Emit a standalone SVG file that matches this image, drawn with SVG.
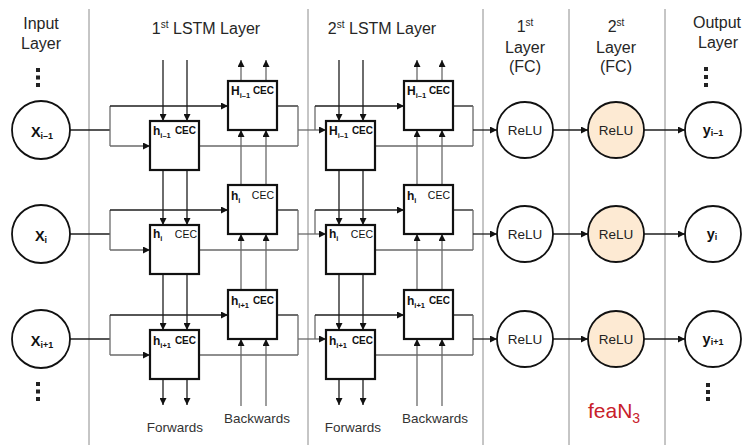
<svg xmlns="http://www.w3.org/2000/svg" width="747" height="445" viewBox="0 0 747 445">
  <defs>
    <style>
      text { font-family: "Liberation Sans", Arial, sans-serif; }
      .sep { stroke: #8c8c8c; stroke-width: 1; }
      .hd { font-size: 16px; fill: #262626; text-anchor: middle; }
      .sup { font-size: 10px; }
      .box { fill: #fff; stroke: #111; stroke-width: 2.2; }
      .bl { font-size: 12px; font-weight: bold; fill: #111; }
      .sub { font-size: 7.5px; }
      .nsub { font-size: 9px; }
      .cec { font-size: 10px; font-weight: bold; fill: #111; text-anchor: end; }
      .cecn { font-size: 10.5px; fill: #111; text-anchor: end; }
      .nd { fill: #fff; stroke: #111; stroke-width: 1.8; }
      .hot { fill: #FDEAD3; }
      .nt { font-size: 13.5px; fill: #222; text-anchor: middle; }
      .ntb { font-size: 14.5px; font-weight: bold; fill: #111; text-anchor: middle; }
      .ln { fill: none; stroke: #1e1e1e; stroke-width: 1.3; }
      .lg { fill: none; stroke: #6a6a6a; stroke-width: 1.3; }
      .arr { marker-end: url(#ah); }
      .dir { font-size: 13.5px; fill: #333; text-anchor: middle; }
      .dot { fill: #222; }
    </style>
    <marker id="ah" viewBox="0 0 8 8" refX="8" refY="4" markerWidth="7" markerHeight="7" markerUnits="userSpaceOnUse" orient="auto">
      <path d="M0,0 L8,4 L0,8 z" fill="#111"/>
    </marker>
  </defs>

  <rect width="747" height="445" fill="#fff"/>

  <!-- column separators -->
  <g id="separators">
    <line class="sep" x1="89" y1="9" x2="89" y2="445"/>
    <line class="sep" x1="308" y1="9" x2="308" y2="445"/>
    <line class="sep" x1="483" y1="9" x2="483" y2="445"/>
    <line class="sep" x1="569" y1="9" x2="569" y2="445"/>
    <line class="sep" x1="665" y1="9" x2="665" y2="445"/>
  </g>

  <!-- column headings -->
  <g id="headings">
    <text class="hd" x="41" y="29">Input</text>
    <text class="hd" x="41" y="49">Layer</text>
    <text class="hd" x="206" y="34">1<tspan class="sup" dy="-6">st</tspan><tspan dy="6"> LSTM Layer</tspan></text>
    <text class="hd" x="382" y="34">2<tspan class="sup" dy="-6">st</tspan><tspan dy="6"> LSTM Layer</tspan></text>
    <text class="hd" x="525" y="32">1<tspan class="sup" dy="-6">st</tspan></text>
    <text class="hd" x="525" y="53">Layer</text>
    <text class="hd" x="525" y="72">(FC)</text>
    <text class="hd" x="616" y="32">2<tspan class="sup" dy="-6">st</tspan></text>
    <text class="hd" x="616" y="53">Layer</text>
    <text class="hd" x="616" y="72">(FC)</text>
    <text class="hd" x="717" y="28">Output</text>
    <text class="hd" x="718" y="48">Layer</text>
  </g>

  <!-- continuation dots -->
  <g id="ellipses">
    <rect class="dot" x="36" y="68" width="4" height="4"/>
    <rect class="dot" x="36" y="75.5" width="4" height="4"/>
    <rect class="dot" x="36" y="83" width="4" height="4"/>
    <rect class="dot" x="36" y="382" width="4" height="4"/>
    <rect class="dot" x="36" y="389.5" width="4" height="4"/>
    <rect class="dot" x="36" y="397" width="4" height="4"/>
    <rect class="dot" x="704" y="67" width="4" height="4"/>
    <rect class="dot" x="704" y="75" width="4" height="4"/>
    <rect class="dot" x="704" y="83" width="4" height="4"/>
    <rect class="dot" x="706" y="383" width="4" height="4"/>
    <rect class="dot" x="706" y="390" width="4" height="4"/>
    <rect class="dot" x="706" y="397" width="4" height="4"/>
  </g>

  <!-- connectors -->
  <g id="connectors">
    <!-- row i-1 -->
    <path class="ln" d="M70,130 H110"/>
    <path class="lg" d="M110,106 V146"/>
    <path class="ln arr" d="M110,106 H228"/>
    <path class="lg arr" d="M110,146 H150"/>
    <path class="ln" d="M277,106 H298"/>
    <path class="lg" d="M199,146 H298 M298,106 V146"/>
    <path class="lg arr" d="M298,130 H326"/>
    <path class="lg" d="M315,106 V130"/>
    <path class="ln arr" d="M315,106 H404"/>
    <path class="ln" d="M453,106 H473"/>
    <path class="lg" d="M375,146 H473 M473,106 V146"/>
    <path class="ln arr" d="M473,130 H497"/>
    <path class="ln arr" d="M553,130 H588"/>
    <path class="ln arr" d="M644,130 H685"/>

    <!-- row i -->
    <path class="ln" d="M70,234 H110"/>
    <path class="lg" d="M110,210 V250"/>
    <path class="ln arr" d="M110,210 H228"/>
    <path class="lg arr" d="M110,250 H150"/>
    <path class="ln" d="M277,210 H298"/>
    <path class="lg" d="M199,250 H298 M298,210 V250"/>
    <path class="lg arr" d="M298,234 H326"/>
    <path class="lg" d="M315,210 V234"/>
    <path class="ln arr" d="M315,210 H404"/>
    <path class="ln" d="M453,210 H473"/>
    <path class="lg" d="M375,250 H473 M473,210 V250"/>
    <path class="ln arr" d="M473,234 H497"/>
    <path class="ln arr" d="M553,234 H588"/>
    <path class="ln arr" d="M644,234 H685"/>

    <!-- row i+1 -->
    <path class="ln" d="M70,339 H110"/>
    <path class="lg" d="M110,315 V355"/>
    <path class="ln arr" d="M110,315 H228"/>
    <path class="lg arr" d="M110,355 H150"/>
    <path class="ln" d="M277,315 H298"/>
    <path class="lg" d="M199,355 H298 M298,315 V355"/>
    <path class="lg arr" d="M298,339 H326"/>
    <path class="lg" d="M315,315 V339"/>
    <path class="ln arr" d="M315,315 H404"/>
    <path class="ln" d="M453,315 H473"/>
    <path class="lg" d="M375,355 H473 M473,315 V355"/>
    <path class="ln arr" d="M473,339 H497"/>
    <path class="ln arr" d="M553,339 H588"/>
    <path class="ln arr" d="M644,339 H685"/>

    <!-- forward chain, 1st LSTM layer -->
    <path class="ln arr" d="M163,60 V121"/>
    <path class="ln arr" d="M187,60 V121"/>
    <path class="ln arr" d="M163,170 V225"/>
    <path class="ln arr" d="M187,170 V225"/>
    <path class="ln arr" d="M163,274 V330"/>
    <path class="ln arr" d="M187,274 V330"/>
    <path class="ln arr" d="M163,379 V405"/>
    <path class="ln arr" d="M187,379 V405"/>

    <!-- backward chain, 1st LSTM layer -->
    <path class="lg arr" d="M241,81 V60"/>
    <path class="lg arr" d="M266,81 V60"/>
    <path class="lg arr" d="M241,185 V130"/>
    <path class="lg arr" d="M266,185 V130"/>
    <path class="lg arr" d="M241,290 V234"/>
    <path class="lg arr" d="M266,290 V234"/>
    <path class="lg arr" d="M241,406 V339"/>
    <path class="lg arr" d="M266,406 V339"/>

    <!-- forward chain, 2nd LSTM layer -->
    <path class="ln arr" d="M339,60 V121"/>
    <path class="ln arr" d="M363,60 V121"/>
    <path class="ln arr" d="M339,170 V225"/>
    <path class="ln arr" d="M363,170 V225"/>
    <path class="ln arr" d="M339,274 V330"/>
    <path class="ln arr" d="M363,274 V330"/>
    <path class="ln arr" d="M339,379 V405"/>
    <path class="ln arr" d="M363,379 V405"/>

    <!-- backward chain, 2nd LSTM layer -->
    <path class="lg arr" d="M417,81 V60"/>
    <path class="lg arr" d="M442,81 V60"/>
    <path class="lg arr" d="M417,185 V130"/>
    <path class="lg arr" d="M442,185 V130"/>
    <path class="lg arr" d="M417,290 V234"/>
    <path class="lg arr" d="M442,290 V234"/>
    <path class="lg arr" d="M417,406 V339"/>
    <path class="lg arr" d="M442,406 V339"/>
  </g>

  <!-- input nodes -->
  <g id="x-prev"><circle class="nd" cx="41" cy="130" r="29"/><text class="ntb" x="42" y="137">X<tspan class="nsub" dy="2">i–1</tspan></text></g>
  <g id="x-cur"><circle class="nd" cx="41" cy="234" r="29"/><text class="ntb" x="41" y="241">X<tspan class="nsub" dy="2">i</tspan></text></g>
  <g id="x-next"><circle class="nd" cx="41" cy="339" r="29"/><text class="ntb" x="42" y="346">X<tspan class="nsub" dy="2">i+1</tspan></text></g>

  <!-- 1st LSTM layer cells -->
  <g id="l1-fwd-prev"><rect class="box" x="150" y="121" width="49" height="49"/><text class="bl" x="153" y="135">h<tspan class="sub" dy="3">i–1</tspan></text><text class="cec" x="196" y="134">CEC</text></g>
  <g id="l1-bwd-prev"><rect class="box" x="228" y="81" width="49" height="49"/><text class="bl" x="231" y="95">H<tspan class="sub" dy="3">i–1</tspan></text><text class="cec" x="274" y="94">CEC</text></g>
  <g id="l1-fwd-cur"><rect class="box" x="150" y="225" width="49" height="49"/><text class="bl" x="153" y="238">h<tspan class="sub" dy="3">i</tspan></text><text class="cecn" x="197" y="238">CEC</text></g>
  <g id="l1-bwd-cur"><rect class="box" x="228" y="185" width="49" height="49"/><text class="bl" x="231" y="200">h<tspan class="sub" dy="3">i</tspan></text><text class="cecn" x="274" y="199">CEC</text></g>
  <g id="l1-fwd-next"><rect class="box" x="150" y="330" width="49" height="49"/><text class="bl" x="153" y="345">h<tspan class="sub" dy="3">i+1</tspan></text><text class="cec" x="196" y="344">CEC</text></g>
  <g id="l1-bwd-next"><rect class="box" x="228" y="290" width="49" height="49"/><text class="bl" x="231" y="305">h<tspan class="sub" dy="3">i+1</tspan></text><text class="cec" x="274" y="304">CEC</text></g>

  <!-- 2nd LSTM layer cells -->
  <g id="l2-fwd-prev"><rect class="box" x="326" y="121" width="49" height="49"/><text class="bl" x="329" y="135">H<tspan class="sub" dy="3">i–1</tspan></text><text class="cec" x="373" y="134">CEC</text></g>
  <g id="l2-bwd-prev"><rect class="box" x="404" y="81" width="49" height="49"/><text class="bl" x="407" y="95">H<tspan class="sub" dy="3">i–1</tspan></text><text class="cec" x="450" y="94">CEC</text></g>
  <g id="l2-fwd-cur"><rect class="box" x="326" y="225" width="49" height="49"/><text class="bl" x="329" y="238">h<tspan class="sub" dy="3">i</tspan></text><text class="cecn" x="373" y="238">CEC</text></g>
  <g id="l2-bwd-cur"><rect class="box" x="404" y="185" width="49" height="49"/><text class="bl" x="407" y="200">h<tspan class="sub" dy="3">i</tspan></text><text class="cecn" x="450" y="199">CEC</text></g>
  <g id="l2-fwd-next"><rect class="box" x="326" y="330" width="49" height="49"/><text class="bl" x="329" y="345">h<tspan class="sub" dy="3">i+1</tspan></text><text class="cec" x="373" y="344">CEC</text></g>
  <g id="l2-bwd-next"><rect class="box" x="404" y="290" width="49" height="49"/><text class="bl" x="407" y="305">h<tspan class="sub" dy="3">i+1</tspan></text><text class="cec" x="450" y="304">CEC</text></g>

  <!-- direction labels -->
  <g id="directions">
    <text class="dir" x="175" y="432">Forwards</text>
    <text class="dir" x="257" y="423">Backwards</text>
    <text class="dir" x="353" y="432">Forwards</text>
    <text class="dir" x="435" y="423">Backwards</text>
  </g>

  <!-- fully connected layers -->
  <g id="fc1-prev"><circle class="nd" cx="525" cy="130" r="28"/><text class="nt" x="525" y="135">ReLU</text></g>
  <g id="fc1-cur"><circle class="nd" cx="525" cy="234" r="28"/><text class="nt" x="525" y="239">ReLU</text></g>
  <g id="fc1-next"><circle class="nd" cx="525" cy="339" r="28"/><text class="nt" x="525" y="344">ReLU</text></g>
  <g id="fc2-prev"><circle class="nd hot" cx="616" cy="130" r="28"/><text class="nt" x="616" y="135">ReLU</text></g>
  <g id="fc2-cur"><circle class="nd hot" cx="616" cy="234" r="28"/><text class="nt" x="616" y="239">ReLU</text></g>
  <g id="fc2-next"><circle class="nd hot" cx="616" cy="339" r="28"/><text class="nt" x="616" y="344">ReLU</text></g>

  <!-- output nodes -->
  <g id="y-prev"><circle class="nd" cx="713" cy="130" r="28"/><text class="ntb" x="713" y="135">y<tspan class="nsub" dy="1">i–1</tspan></text></g>
  <g id="y-cur"><circle class="nd" cx="713" cy="234" r="28"/><text class="ntb" x="712" y="239">y<tspan class="nsub" dy="1">i</tspan></text></g>
  <g id="y-next"><circle class="nd" cx="713" cy="339" r="28"/><text class="ntb" x="713" y="344">y<tspan class="nsub" dy="1">i+1</tspan></text></g>

  <!-- feature tap label -->
  <g id="feature-label">
    <text x="588" y="418" font-size="21" fill="#C8202A">feaN<tspan font-size="14" dy="5">3</tspan></text>
  </g>
</svg>
